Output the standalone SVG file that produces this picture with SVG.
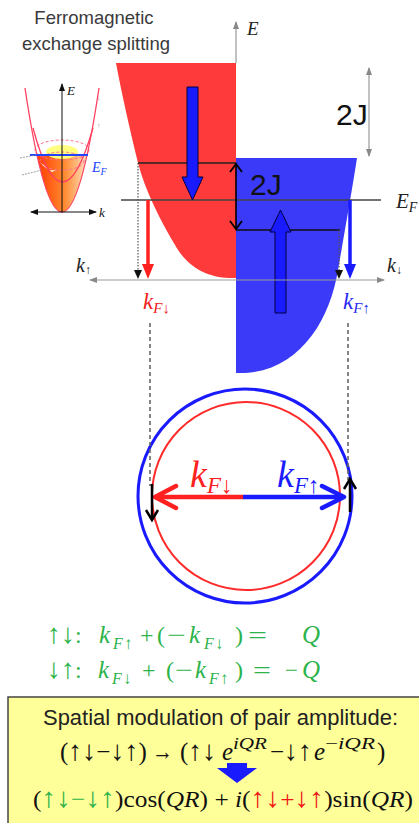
<svg xmlns="http://www.w3.org/2000/svg" width="419" height="823" viewBox="0 0 419 823">
<defs>
<style>
.sans{font-family:"Liberation Sans",Arial,sans-serif}
.ser{font-family:"Liberation Serif","DejaVu Serif",serif}
.arr{font-size:28px}
.it{font-style:italic}
.grn{fill:#2cb34a}
.thin{fill:none;stroke:#999;stroke-width:1.2}
.dot{fill:none;stroke:#555;stroke-width:1.2;stroke-dasharray:1.5 1.5}
.dash{fill:none;stroke:#666;stroke-width:1.6;stroke-dasharray:4 3}
</style>
<marker id="ga" viewBox="0 0 8 6" refX="7" refY="3" markerWidth="8" markerHeight="6" markerUnits="userSpaceOnUse" orient="auto-start-reverse"><path d="M0,0 L8,3 L0,6 z" fill="#888"/></marker>
<marker id="ka" viewBox="0 0 8 6" refX="7" refY="3" markerWidth="8" markerHeight="6" markerUnits="userSpaceOnUse" orient="auto-start-reverse"><path d="M0,0 L8,3 L0,6 z" fill="#111"/></marker>
<linearGradient id="og" x1="0" y1="0" x2="1" y2="0">
<stop offset="0" stop-color="#ff3a00"/><stop offset="0.55" stop-color="#ff8a30"/><stop offset="1" stop-color="#ffe2c0"/>
</linearGradient>
</defs>
<rect width="419" height="823" fill="#fff"/>

<g id="title" class="sans" fill="#3a3a3a" font-size="18.5" text-anchor="middle">
<text x="94" y="24">Ferromagnetic</text>
<text x="96" y="50">exchange splitting</text>
</g>

<g id="inset">
<path d="M37,155 Q62,269 87,155 Z" fill="url(#og)"/>
<path d="M40,162 Q50,175 60,168 L52,172 Z" fill="#fff"/>
<ellipse cx="62" cy="152" rx="16" ry="7" fill="#ffff80"/>
<ellipse cx="62" cy="150" rx="27" ry="10" fill="none" stroke="#ff7090" stroke-width="1" stroke-dasharray="3 2"/>
<ellipse cx="62" cy="161" rx="22" ry="9" fill="none" stroke="#ff7090" stroke-width="1" stroke-dasharray="3 2"/>
<path d="M25,88 Q62,336 99,88" fill="none" stroke="#ff4060" stroke-width="1.3"/>
<path d="M33,128 Q62,236 93,128" fill="none" stroke="#ff4060" stroke-width="1.3"/>
<line x1="30" y1="155" x2="88" y2="155" stroke="#2244ff" stroke-width="2"/>
<line x1="62" y1="212" x2="62" y2="84" stroke="#111" stroke-width="1" marker-end="url(#ka)"/>
<line x1="31" y1="212" x2="96" y2="212" stroke="#111" stroke-width="1" marker-start="url(#ka)" marker-end="url(#ka)"/>
<line x1="20" y1="158" x2="36" y2="155" stroke="#888" stroke-width="0.8" stroke-dasharray="2 1"/>
<line x1="22" y1="175" x2="42" y2="170" stroke="#888" stroke-width="0.8" stroke-dasharray="2 1"/>
<text x="97" y="100" class="sans" font-size="7" fill="#999">↓</text>
<text x="97" y="128" class="sans" font-size="7" fill="#999">↑</text>
<text x="67" y="95" class="ser it" font-size="13" fill="#111">E</text>
<text x="99" y="217" class="ser it" font-size="13" fill="#111">k</text>
<text x="92" y="172" class="ser it" font-size="14" fill="#2244ff">E<tspan font-size="10" dy="3">F</tspan></text>
</g>

<g id="bands">
<path id="redband" d="M116,63 L236,63 L236,278 C215,279 190,272 175,245 C160,220 145,190 138,163 C130,130 122,95 116,63 Z" fill="#ff3a3a"/>
<path id="blueband" d="M236,158 L357,158 C352,190 345,230 338,270 C330,320 300,370 245,373 L236,373 Z" fill="#3a3af8"/>
</g>

<g id="fermisurface">
<circle cx="245" cy="496" r="107" fill="none" stroke="#1a1aff" stroke-width="3"/>
<circle cx="246" cy="496" r="94" fill="none" stroke="#ff2a2a" stroke-width="2"/>
</g>

<g id="connectors">
<line x1="236" y1="63" x2="236" y2="22" class="thin" marker-end="url(#ga)"/>
<line x1="369" y1="68" x2="369" y2="156" class="thin" marker-start="url(#ga)" marker-end="url(#ga)"/>
<line x1="138" y1="163" x2="236" y2="163" stroke="#222" stroke-width="1.6"/>
<line x1="121" y1="200" x2="381" y2="200" stroke="#444" stroke-width="1.6"/>
<line x1="236" y1="230" x2="340" y2="230" stroke="#111" stroke-width="1.6"/>
<line x1="236" y1="163" x2="236" y2="230" stroke="#000" stroke-width="1.6"/>
<polyline points="230,172 236,164 242,172" fill="none" stroke="#000" stroke-width="1.8"/>
<polyline points="230,221 236,229 242,221" fill="none" stroke="#000" stroke-width="1.8"/>
<polygon points="187,87 198,87 198,177 203,177 192.5,200 182,177 187,177" fill="#1a1aff" stroke="#000040" stroke-width="1"/>
<polygon points="275,313 286,313 286,232 291,232 280.5,210 270,232 275,232" fill="#1a1aff" stroke="#000040" stroke-width="1"/>
<line x1="90" y1="280" x2="384" y2="280" class="thin" marker-start="url(#ga)" marker-end="url(#ga)"/>
<line x1="138" y1="163" x2="138" y2="271" class="dot"/>
<polygon points="134,270 142,270 138,279" fill="#111"/>
<line x1="339" y1="230" x2="339" y2="271" class="dot"/>
<polygon points="335,270 343,270 339,279" fill="#111"/>
<line x1="148" y1="200" x2="148" y2="266" stroke="#ff2020" stroke-width="3.5"/>
<polygon points="142,264 154,264 148,279" fill="#ff2020"/>
<line x1="350" y1="200" x2="350" y2="266" stroke="#1a1aff" stroke-width="3.5"/>
<polygon points="344,264 356,264 350,279" fill="#1a1aff"/>
<line x1="150" y1="323" x2="150" y2="486" class="dash"/>
<line x1="348" y1="323" x2="348" y2="480" class="dash"/>
<line x1="243" y1="497" x2="156" y2="497" stroke="#ff2020" stroke-width="4.5"/>
<polyline points="176,486 155,497 176,508" fill="none" stroke="#ff2020" stroke-width="4.5" stroke-linecap="round" stroke-linejoin="round"/>
<line x1="243" y1="497" x2="342" y2="497" stroke="#1a1aff" stroke-width="4.5"/>
<polyline points="322,486 344,497 322,508" fill="none" stroke="#1a1aff" stroke-width="4.5" stroke-linecap="round" stroke-linejoin="round"/>
<line x1="152" y1="484" x2="152" y2="519" stroke="#000" stroke-width="2.5"/>
<polyline points="146,510 152,520 158,510" fill="none" stroke="#000" stroke-width="2.5"/>
<line x1="350" y1="512" x2="350" y2="481" stroke="#000" stroke-width="2.5"/>
<polyline points="344,489 350,479 356,489" fill="none" stroke="#000" stroke-width="2.5"/>
</g>

<g id="labels">
<text x="247" y="35" class="ser it" font-size="19" fill="#222">E</text>
<text x="336" y="125" class="sans" font-size="30" fill="#111">2J</text>
<text x="250" y="195" class="sans" font-size="30" fill="#111">2J</text>
<text x="396" y="208" class="ser it" font-size="21" fill="#222">E<tspan font-size="14" dy="4">F</tspan></text>
<text x="76" y="272" class="ser it" font-size="20" fill="#222">k<tspan font-size="12" dy="2" font-style="normal">↑</tspan></text>
<text x="387" y="272" class="ser it" font-size="20" fill="#222">k<tspan font-size="12" dy="2" font-style="normal">↓</tspan></text>
<text x="143" y="309" class="ser it" font-size="23" fill="#ee2020">k<tspan font-size="15" dy="4">F</tspan><tspan font-size="15" font-style="normal">↓</tspan></text>
<text x="343" y="309" class="ser it" font-size="23" fill="#2a2af0">k<tspan font-size="15" dy="4">F</tspan><tspan font-size="15" font-style="normal">↑</tspan></text>
<text x="190" y="487" class="ser it" font-size="38" fill="#ff2020">k<tspan font-size="23" dy="6">F</tspan><tspan font-size="23" font-style="normal">↓</tspan></text>
<text x="277" y="487" class="ser it" font-size="38" fill="#1a1aff">k<tspan font-size="23" dy="6">F</tspan><tspan font-size="23" font-style="normal">↑</tspan></text>
</g>

<g id="equations" class="ser grn" font-size="24">
<text x="47" y="643"><tspan class="arr">↑↓</tspan>:</text>
<text x="99" y="643" class="it" font-size="25">k</text>
<text x="113" y="649" class="it" font-size="16">F</text>
<text x="124" y="649" font-size="17">↑</text>
<text x="140" y="643">+</text>
<text x="157" y="643">(</text>
<text x="167" y="643" textLength="19" lengthAdjust="spacingAndGlyphs">−</text>
<text x="189" y="643" class="it" font-size="25">k</text>
<text x="204" y="649" class="it" font-size="16">F</text>
<text x="215" y="649" font-size="17">↓</text>
<text x="235" y="643">)</text>
<text x="248" y="643" textLength="19" lengthAdjust="spacingAndGlyphs">=</text>
<text x="302" y="643" class="it" font-size="25">Q</text>

<text x="47" y="678"><tspan class="arr">↓↑</tspan>:</text>
<text x="98" y="678" class="it" font-size="25">k</text>
<text x="112" y="684" class="it" font-size="16">F</text>
<text x="123" y="684" font-size="17">↓</text>
<text x="142" y="678">+</text>
<text x="166" y="678">(</text>
<text x="175" y="678" textLength="18" lengthAdjust="spacingAndGlyphs">−</text>
<text x="195" y="678" class="it" font-size="25">k</text>
<text x="209" y="684" class="it" font-size="16">F</text>
<text x="220" y="684" font-size="17">↑</text>
<text x="235" y="678">)</text>
<text x="253" y="678" textLength="18" lengthAdjust="spacingAndGlyphs">=</text>
<text x="285" y="678" textLength="13" lengthAdjust="spacingAndGlyphs">−</text>
<text x="302" y="678" class="it" font-size="25">Q</text>
</g>

<g id="box">
<rect x="8" y="697" width="420" height="140" fill="#ffff99" stroke="#444" stroke-width="1.5"/>
<text x="220.5" y="725" class="sans" font-size="21.5" fill="#222" text-anchor="middle" textLength="355" lengthAdjust="spacingAndGlyphs">Spatial modulation of pair amplitude:</text>
<g class="ser" font-size="25" fill="#111">
<text x="60" y="760">(<tspan class="arr">↑↓</tspan>−<tspan class="arr">↓↑</tspan>)</text>
<text x="152" y="760" textLength="21" lengthAdjust="spacingAndGlyphs">→</text>
<text x="180" y="760">(<tspan class="arr">↑↓</tspan></text>
<text x="222" y="760" class="it">e</text>
<text x="233" y="749" class="it" font-size="17" textLength="34" lengthAdjust="spacingAndGlyphs">iQR</text>
<text x="270" y="760">−<tspan class="arr">↓↑</tspan></text>
<text x="314" y="760" class="it">e</text>
<text x="325" y="749" font-size="17" textLength="50" lengthAdjust="spacingAndGlyphs">−<tspan font-style="italic">iQR</tspan></text>
<text x="377" y="760">)</text>
</g>
<polygon points="227,763 247,763 247,768 257,768 237,783 217,768 227,768" fill="#1a1aff"/>
<text class="ser" font-size="24" fill="#111" x="33" y="807" textLength="380" lengthAdjust="spacingAndGlyphs">(<tspan fill="#2cb34a"><tspan class="arr">↑↓</tspan>−<tspan class="arr">↓↑</tspan></tspan>)cos(<tspan font-style="italic">QR</tspan>) + <tspan font-style="italic">i</tspan>(<tspan fill="#ee1515"><tspan class="arr">↑↓</tspan>+<tspan class="arr">↓↑</tspan></tspan>)sin(<tspan font-style="italic">QR</tspan>)</text>
</g>
</svg>
